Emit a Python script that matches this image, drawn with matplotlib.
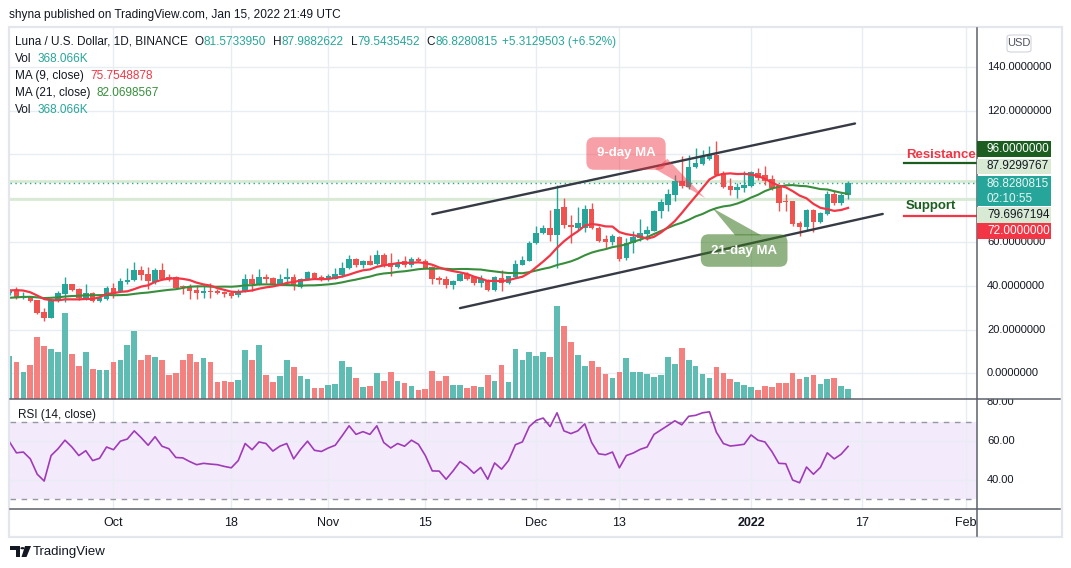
import numpy as np
import pandas as pd
import matplotlib
matplotlib.use('Agg')
import matplotlib.pyplot as plt
import matplotlib.dates as mdates
from matplotlib.patches import Rectangle, Polygon, Circle, FancyBboxPatch
from matplotlib.lines import Line2D

plt.rcParams['font.family'] = ['Liberation Sans', 'DejaVu Sans']

W, H = 1071, 568

# ---------------- data ----------------
start_date = '2021-09-16'

opens = [36.8, 37.6, 34.5, 35.2, 33.3, 27.9, 25.3, 33.0, 36.1, 40.6,
         38.3, 34.1, 36.8, 33.0, 34.1, 39.2, 37.6, 41.5, 42.6, 47.1,
         45.2, 41.8, 47.0, 43.8, 43.9, 39.8, 39.8, 38.0, 36.7, 37.4,
         37.6, 37.0, 36.7, 35.8, 37.6, 42.9, 40.6, 43.9, 43.5, 40.9,
         42.9, 44.2, 39.5, 42.9, 45.9, 44.1, 43.0, 43.3, 44.7, 47.9,
         52.1, 49.7, 51.5, 50.0, 54.2, 50.6, 48.5, 51.2, 49.4, 52.4,
         51.5, 48.4, 43.4, 43.1, 40.2, 42.3, 45.4, 43.9, 41.1, 42.8,
         38.2, 43.6, 41.3, 43.9, 49.6, 51.5, 59.5, 64.0, 66.4, 63.3,
         75.8, 67.9, 66.4, 66.4, 75.2, 66.4, 61.5, 60.0, 62.1, 52.7,
         59.5, 61.8, 63.7, 65.2, 74.0, 77.0, 81.6, 87.7, 85.0, 94.1,
         95.6, 98.1, 99.9, 91.5, 85.4, 83.6, 84.7, 85.4, 91.5, 90.7,
         88.9, 85.4, 78.9, 78.6, 68.7, 66.7, 74.8, 69.1, 72.8, 81.9,
         77.8, 81.5733950]
highs = [38.5, 39.5, 37.3, 35.5, 33.6, 29.7, 33.9, 37.6, 43.9, 40.9,
         38.8, 41.0, 37.3, 35.3, 39.7, 41.4, 43.6, 48.2, 50.8, 48.9,
         48.6, 48.2, 50.6, 45.5, 44.4, 40.3, 40.6, 40.3, 39.8, 41.4,
         38.3, 37.6, 37.6, 38.3, 45.2, 45.2, 47.7, 45.2, 44.1, 45.2,
         47.9, 45.2, 43.6, 46.7, 46.2, 44.8, 45.5, 48.2, 50.9, 53.9,
         52.7, 51.8, 54.2, 56.5, 55.0, 55.0, 52.4, 53.5, 53.0, 53.0,
         52.1, 48.9, 44.3, 44.3, 42.8, 45.8, 46.1, 44.3, 45.1, 43.3,
         44.3, 47.1, 44.6, 51.9, 53.5, 60.3, 67.2, 67.6, 74.8, 86.2,
         80.1, 72.5, 75.8, 77.0, 77.8, 67.2, 63.3, 63.7, 62.6, 61.8,
         64.9, 70.7, 67.2, 74.6, 79.8, 84.4, 90.7, 99.1, 99.9, 102.9,
         102.2, 103.7, 106.3, 92.3, 89.2, 87.1, 92.3, 92.6, 93.8, 94.9,
         90.7, 86.2, 81.9, 78.9, 69.7, 75.2, 75.2, 73.7, 83.4, 83.4,
         82.4, 87.9882622]
lows = [36.0, 34.1, 33.8, 32.6, 27.0, 23.9, 25.2, 32.6, 32.6, 37.6,
        33.6, 33.5, 32.7, 32.7, 33.3, 34.5, 37.3, 40.9, 42.1, 42.6,
        38.3, 40.9, 42.6, 42.1, 38.3, 36.1, 34.1, 34.1, 34.2, 34.5,
        36.1, 34.8, 34.5, 34.8, 37.3, 37.6, 40.3, 41.1, 40.3, 40.6,
        40.9, 37.9, 39.1, 42.6, 42.9, 42.4, 42.1, 42.9, 43.9, 47.6,
        48.8, 48.2, 49.4, 49.4, 48.5, 44.4, 47.9, 48.8, 48.8, 50.9,
        47.6, 41.0, 40.8, 39.0, 38.7, 42.0, 42.8, 40.5, 39.5, 37.8,
        37.8, 37.5, 40.8, 43.6, 49.3, 51.2, 59.1, 63.7, 60.3, 48.1,
        66.4, 59.5, 65.6, 64.6, 66.1, 60.0, 57.0, 58.8, 51.5, 51.9,
        55.0, 60.6, 60.9, 64.9, 71.0, 74.0, 78.6, 84.7, 84.4, 93.8,
        95.3, 97.6, 90.4, 84.7, 81.6, 80.1, 82.9, 85.0, 88.5, 86.2,
        83.9, 74.3, 74.3, 67.2, 62.6, 65.6, 64.6, 68.7, 72.5, 77.0,
        76.7, 79.5435452]
closes = [37.9, 34.5, 35.1, 33.0, 27.6, 25.3, 33.6, 36.5, 40.6, 38.0,
          34.4, 36.8, 33.0, 34.2, 39.2, 36.8, 42.1, 42.7, 47.0, 44.8,
          42.1, 47.0, 43.3, 43.0, 39.1, 39.4, 37.6, 36.5, 37.6, 37.1,
          36.7, 36.1, 35.5, 37.6, 42.9, 40.6, 43.9, 43.0, 40.9, 42.9,
          44.2, 39.8, 43.3, 46.2, 43.5, 43.0, 44.5, 45.2, 48.2, 52.1,
          49.4, 51.5, 49.7, 54.2, 48.9, 48.5, 50.6, 49.4, 52.4, 51.2,
          48.2, 43.1, 42.8, 40.2, 42.3, 45.4, 43.3, 41.1, 43.1, 38.2,
          43.9, 41.3, 44.3, 50.0, 51.9, 59.5, 64.1, 66.4, 63.3, 75.2,
          67.9, 66.7, 68.7, 75.2, 66.4, 60.6, 60.0, 62.6, 52.4, 59.5,
          62.1, 64.1, 65.6, 74.3, 78.3, 81.9, 87.7, 85.4, 94.4, 95.9,
          98.7, 100.2, 90.7, 85.0, 83.9, 85.0, 86.2, 91.9, 89.2, 87.7,
          84.7, 77.8, 78.3, 68.2, 66.7, 74.8, 69.1, 73.2, 81.9, 77.8,
          81.5151312, 86.8280815]
# closes before the visible window, estimated from where the MA lines start
warmup_closes = [30, 31, 32, 33, 32, 31, 32, 33, 33, 32, 32.3, 32.5,
                 33, 37, 40, 41, 40, 38, 37, 36.8]

volume_k = [1591, 1369, 999, 1258, 2294, 1961, 1850, 1739, 3182, 1665,
            1221, 1739, 1110, 1073, 1073, 1369, 1443, 1998, 2516, 1443,
            1628, 1554, 1443, 888, 962, 1443, 1665, 1369, 1517, 1369,
            629, 666, 629, 703, 1813, 1443, 1998, 888, 629, 851,
            1443, 1184, 851, 740, 407, 407, 518, 555, 1406, 1184,
            777, 444, 481, 962, 666, 999, 666, 592, 481, 333,
            370, 1036, 666, 851, 518, 518, 407, 481, 444, 888,
            666, 1258, 629, 1850, 1443, 1739, 1591, 1739, 1554, 3441,
            2701, 2109, 1628, 1221, 1406, 1184, 925, 777, 999, 1517,
            999, 999, 925, 814, 888, 1554, 1295, 1887, 1443, 1221,
            925, 777, 1184, 962, 740, 629, 518, 444, 333, 481,
            444, 592, 592, 962, 740, 814, 888, 555, 740, 777,
            481, 368.066]

rsi_values = [59.6, 54.0, 54.4, 50.9, 43.0, 39.5, 52.6, 56.1, 60.5, 57.0,
              52.6, 55.1, 50.0, 51.2, 57.0, 55.6, 60.0, 61.1, 65.3, 61.8,
              57.9, 62.3, 57.4, 56.1, 51.6, 51.4, 49.5, 47.9, 48.6, 48.2,
              47.9, 47.0, 46.3, 50.0, 58.8, 55.6, 59.6, 58.8, 54.9, 57.4,
              58.8, 50.9, 55.8, 60.0, 55.3, 54.7, 56.5, 57.9, 62.8, 67.9,
              63.5, 64.9, 63.5, 67.9, 59.3, 56.5, 58.8, 57.4, 60.5, 58.4,
              52.6, 44.7, 44.6, 40.4, 44.7, 49.5, 47.0, 43.5, 46.5, 40.4,
              48.8, 45.6, 50.0, 58.2, 59.6, 67.5, 70.7, 71.9, 67.5, 74.6,
              65.3, 63.9, 65.3, 68.9, 59.3, 53.5, 53.0, 54.4, 46.3, 52.6,
              53.9, 55.8, 57.0, 63.5, 65.8, 68.1, 70.5, 68.4, 72.8, 73.3,
              74.6, 75.1, 64.6, 58.8, 57.5, 57.9, 58.4, 63.2, 60.5, 59.6,
              54.7, 48.6, 48.4, 40.0, 38.6, 46.7, 43.0, 46.5, 54.0, 50.9,
              53.3, 57.30]

ma_fast, ma_slow = 9, 21
ma_fast_last = 75.7548878
ma_slow_last = 82.0698567

resistance = 96.0
support = 72.0
range_high = 87.9299767
range_low = 79.6967194
countdown = '02:10:55'

upper_channel = [('2021-11-16', 72.7), ('2022-01-16', 114.1)]
lower_channel = [('2021-11-20', 29.8), ('2022-01-20', 72.8)]

date_ticks = ['2021-10-01', '2021-10-18', '2021-11-01', '2021-11-15', '2021-12-01',
              '2021-12-13', '2022-01-01', '2022-01-17', '2022-02-01']
date_labels = ['Oct', '18', 'Nov', '15', 'Dec', '13', '2022', '17', 'Feb']
price_ticks = [0, 20, 40, 60, 80, 100, 120, 140]
rsi_grid = [40, 60]
rsi_labels = [80, 60, 40]

# ---------------- colours ----------------
dark = '#131722'
teal = '#26a69a'
red = '#ef5350'
vol_up, vol_dn = '#5fbcb3', '#f3817f'
ma_red = '#f23645'
ma_green = '#388e3c'
grid_c = '#e8edf2'
sep_c = '#5d606b'
rsi_c = '#a03bb8'

# ---------------- helpers ----------------
def fx(px):
    return px / W

def fy(py):
    return 1 - py / H

def rect(x0, y0, x1, y1):
    return [fx(x0), fy(y1), (x1 - x0) / W, (y1 - y0) / H]

dates = pd.date_range(start_date, periods=len(closes), freq='D')
x = mdates.date2num(dates)
O, Hh, L, C = map(np.array, (opens, highs, lows, closes))
up = C >= O

allc = pd.Series(warmup_closes + closes)
ma9 = allc.rolling(ma_fast).mean().to_numpy()[len(warmup_closes):]
ma21 = allc.rolling(ma_slow).mean().to_numpy()[len(warmup_closes):]

jan1 = mdates.date2num(pd.Timestamp('2022-01-01'))
xlim = (jan1 - 106.93, jan1 + 32.6)
plim = (-11.7, 157.7)
rlim = (25.1, 81.7)
tick_x = mdates.date2num(pd.to_datetime(date_ticks))

fig = plt.figure(figsize=(W / 100, H / 100), dpi=100)
fig.patch.set_facecolor('white')

# ---------------- main pane ----------------
ax_grid = fig.add_axes(rect(10, 28, 977, 399))
ax_grid.set_xlim(*xlim)
ax_grid.set_ylim(*plim)
ax_grid.set_xticks(tick_x)
ax_grid.set_yticks(price_ticks)
ax_grid.grid(True, color=grid_c, lw=1)
ax_grid.tick_params(length=0, labelbottom=False, labelleft=False)
for s in ax_grid.spines.values():
    s.set_visible(False)

ax_vol = fig.add_axes(rect(10, 28, 977, 399), sharex=ax_grid)
ax_vol.patch.set_visible(False)
ax_vol.bar(x, volume_k, width=0.82, color=np.where(up, vol_up, vol_dn), lw=0)
ax_vol.set_ylim(0, max(volume_k) * 3.99)
ax_vol.axis('off')

ax = fig.add_axes(rect(10, 28, 977, 399), sharex=ax_grid, sharey=ax_grid)
ax.patch.set_visible(False)
ax.axis('off')

ccol = np.where(up, teal, red)
ax.vlines(x, L, Hh, colors=ccol, lw=1, zorder=2)
ax.bar(x, np.maximum(np.abs(C - O), 0.4), bottom=np.minimum(O, C), width=0.8,
       color=ccol, lw=0, zorder=2)
ax.plot(x, ma21, color=ma_green, lw=1.5, zorder=3)
ax.plot(x, ma9, color=ma_red, lw=1.6, zorder=3)

ax.axhline(range_high, color='#d8ead3', lw=2, zorder=1)
ax.axhline(range_low, color='#d8ead3', lw=2, zorder=1)
ax.axhline(C[-1], color=teal, lw=1, ls=(0, (1, 2.5)), zorder=1)

for line in (upper_channel, lower_channel):
    lx = mdates.date2num(pd.to_datetime([p[0] for p in line]))
    ax.plot(lx, [p[1] for p in line], color='#363a45', lw=1.7, zorder=4,
            solid_capstyle='round')

lvl_x0 = mdates.date2num(pd.Timestamp('2022-01-23'))
ax.plot([lvl_x0, xlim[1]], [resistance, resistance], color='#1b5e20', lw=1.6, zorder=4)
ax.plot([lvl_x0, xlim[1]], [support, support], color=ma_red, lw=1.6, zorder=4)
ax.annotate('Resistance', xy=(lvl_x0, resistance), xytext=(3, 2), textcoords='offset pixels',
            color=ma_red, fontsize=9.5, fontweight='bold', ha='left', va='bottom', zorder=5)
ax.annotate('Support', xy=(lvl_x0, support), xytext=(2, 4), textcoords='offset pixels',
            color='#1b5e20', fontsize=9.5, fontweight='bold', ha='left', va='bottom', zorder=5)

# callouts
pink = (242 / 255, 54 / 255, 69 / 255, 0.47)
sage = (56 / 255, 118 / 255, 29 / 255, 0.55)

def dnum(s):
    return mdates.date2num(pd.Timestamp(s))

ax.add_patch(Polygon([(dnum('2021-12-18 04:00'), 93.3), (dnum('2021-12-19 22:00'), 98.0),
                      (dnum('2021-12-25 09:00'), 80.0)], closed=True, fc=pink, ec='none', zorder=5))
ax.add_patch(Polygon([(dnum('2021-12-26 10:00'), 75.5), (dnum('2021-12-29 17:00'), 63.0),
                      (dnum('2022-01-02 12:00'), 63.0)], closed=True, fc=sage, ec='none', zorder=5))
ax.text(dnum('2021-12-13 23:00'), 100.4, '9-day MA', color='white', fontsize=9.5,
        fontweight='bold', ha='center', va='center', zorder=6,
        bbox=dict(boxstyle='round,pad=0.78,rounding_size=0.6', fc=pink, ec='none'))
ax.text(dnum('2021-12-31'), 56.1, '21-day MA', color='white', fontsize=9.5,
        fontweight='bold', ha='center', va='center', zorder=6,
        bbox=dict(boxstyle='round,pad=0.78,rounding_size=0.6', fc=sage, ec='none'))

# ---------------- RSI pane ----------------
ax_rsi = fig.add_axes(rect(10, 399, 977, 509), sharex=ax_grid)
ax_rsi.set_ylim(*rlim)
ax_rsi.set_yticks(rsi_grid)
ax_rsi.grid(True, color=grid_c, lw=1)
ax_rsi.axhspan(30, 70, color=(0.58, 0.25, 0.9), alpha=0.11, lw=0, zorder=1)
ax_rsi.axhline(70, color='#9598a1', lw=1, ls=(0, (4, 4)), zorder=2)
ax_rsi.axhline(30, color='#9598a1', lw=1, ls=(0, (4, 4)), zorder=2)
ax_rsi.plot(x, rsi_values, color=rsi_c, lw=1.2, zorder=3)
for s in ax_rsi.spines.values():
    s.set_visible(False)
ax_rsi.tick_params(axis='y', length=0, labelleft=False)
ax_rsi.tick_params(axis='x', length=0, pad=6, labelsize=9, labelcolor=dark)
ax_rsi.set_xticks(tick_x)
ax_rsi.set_xticklabels(date_labels)
ax_rsi.set_xlim(*xlim)
for lab, txt in zip(ax_rsi.get_xticklabels(), date_labels):
    if txt == '2022':
        lab.set_fontweight('bold')

# ---------------- price / rsi scales ----------------
def price_py(p):
    # image-pixel y (from top) of a price on the main pane
    return H - ax.transData.transform((x[0], p))[1]


# (text lines, price, shift in px, box height, face, text colour)
boxes = [
    ([f'{resistance:.7f}'], resistance, -14, 16, '#1b5e20', 'white'),
    ([f'{range_high:.7f}'], range_high, -14.5, 14.5, '#d8ead3', dark),
    ([f'{C[-1]:.7f}', countdown], C[-1], 8, 30, teal, '#e8f6f4'),
    ([f'{range_low:.7f}'], range_low, 15.7, 16, '#d8ead3', dark),
    ([f'{support:.7f}'], support, 15.4, 16, '#f23645', 'white'),
]
box_spans = [(price_py(p) + sh - bh / 2, price_py(p) + sh + bh / 2)
             for _, p, sh, bh, _, _ in boxes]

ax_ps = fig.add_axes(rect(977, 28, 1060, 399))
ax_ps.set_xlim(977, 1060)
ax_ps.set_ylim(*plim)
ax_ps.axis('off')
for p in price_ticks:
    py = price_py(p)
    if any(t <= py <= b for t, b in box_spans):
        continue  # label hidden behind a price marker
    ax_ps.text(987, p, f'{p:.7f}', fontsize=8, color=dark, ha='left', va='center', clip_on=True)

ax_rs = fig.add_axes(rect(977, 399, 1060, 509))
ax_rs.set_xlim(977, 1060)
ax_rs.set_ylim(*rlim)
ax_rs.axis('off')
for v in rsi_labels:
    ax_rs.text(987, v, f'{v:.2f}', fontsize=8, color=dark, ha='left', va='center', clip_on=True)

for (lines, p, shift, bh, fc, tc), (top, bot) in zip(boxes, box_spans):
    cy = (top + bot) / 2
    fig.add_artist(Rectangle((fx(977), fy(bot)), 74 / W, bh / H,
                             transform=fig.transFigure, fc=fc, ec='none', zorder=5))
    if len(lines) == 1:
        fig.text(fx(987), fy(cy), lines[0], fontsize=8.5, color=tc, ha='left', va='center', zorder=6)
    else:
        fig.text(fx(987), fy(cy - 7.5), lines[0], fontsize=8.5, color=tc, ha='left', va='center', zorder=6)
        fig.text(fx(987), fy(cy + 7.5), lines[1], fontsize=8.5, color=tc, ha='left', va='center', zorder=6)

fig.add_artist(FancyBboxPatch((fx(1007), fy(52)), 24 / W, 17 / H, transform=fig.transFigure,
                              boxstyle='round,pad=0,rounding_size=0.004', fc='white', ec='#d1d4dc', lw=0.8))
fig.text(fx(1019), fy(43.5), 'USD', fontsize=8, color='#50535e', ha='center', va='center')

# ---------------- separators and frame ----------------
fig.add_artist(Rectangle((fx(8.5), fy(537)), (1062 - 8.5) / W, (537 - 27) / H,
                         transform=fig.transFigure, fill=False, ec='#e3e6ec', lw=1.6))
for yy in (399, 509):
    fig.add_artist(Line2D([fx(10), fx(1060)], [fy(yy), fy(yy)], color=sep_c, lw=1.1))
fig.add_artist(Line2D([fx(977), fx(977)], [fy(28), fy(536)], color=sep_c, lw=1.1))

# ---------------- legends ----------------
def chain(px, py, parts, size=8.5):
    s, c, _ = parts[0]
    prev = fig.text(fx(px), fy(py), s, color=c, fontsize=size, ha='left', va='center')
    for s, c, gap in parts[1:]:
        prev = ax.annotate(s, xy=(1, 0.5), xycoords=prev, xytext=(gap, 0),
                           textcoords='offset pixels', color=c, fontsize=size,
                           ha='left', va='center')
    return prev

chg = C[-1] - C[-2]
chain(15, 42, [('Luna / U.S. Dollar, 1D, BINANCE', dark, 0),
               ('O', dark, 7), (f'{O[-1]:.7f}', teal, 0),
               ('H', dark, 7), (f'{Hh[-1]:.7f}', teal, 0),
               ('L', dark, 7), (f'{L[-1]:.7f}', teal, 0),
               ('C', dark, 7), (f'{C[-1]:.7f}', teal, 0),
               (f'{chg:+.7f} ({chg / C[-2] * 100:+.2f}%)', teal, 4)])
chain(15, 59, [('Vol', dark, 0), (f'{volume_k[-1]:.3f}K', teal, 6)])
chain(15, 76, [('MA (9, close)', dark, 0), (f'{ma_fast_last:.7f}', ma_red, 6)])
chain(15, 93, [('MA (21, close)', dark, 0), (f'{ma_slow_last:.7f}', ma_green, 6)])
chain(15, 110, [('Vol', dark, 0), (f'{volume_k[-1]:.3f}K', teal, 6)])
chain(18, 415, [('RSI (14, close)', dark, 0), (f'{rsi_values[-1]:.2f}', '#9c27b0', 6)])

fig.text(fx(9), fy(15), 'shyna published on TradingView.com, Jan 15, 2022 21:49 UTC',
         fontsize=8.6, color=dark, ha='left', va='center')

# TradingView footer logo
logo = [Polygon([(fx(10), fy(546)), (fx(20), fy(546)), (fx(20), fy(557)), (fx(15.5), fy(557)),
                 (fx(15.5), fy(550)), (fx(10), fy(550))], closed=True, transform=fig.transFigure,
                fc=dark, ec='none'),
        Circle((fx(22.5), fy(548.2)), 2.1 / W, transform=fig.transFigure, fc=dark, ec='none'),
        Polygon([(fx(25), fy(546)), (fx(31), fy(546)), (fx(26.5), fy(557)), (fx(21.5), fy(557))],
                closed=True, transform=fig.transFigure, fc=dark, ec='none')]
for a in logo:
    fig.add_artist(a)
fig.text(fx(33), fy(551.5), 'TradingView', fontsize=9.5, color=dark, ha='left', va='center')

fig.savefig('out.png', dpi=100)
